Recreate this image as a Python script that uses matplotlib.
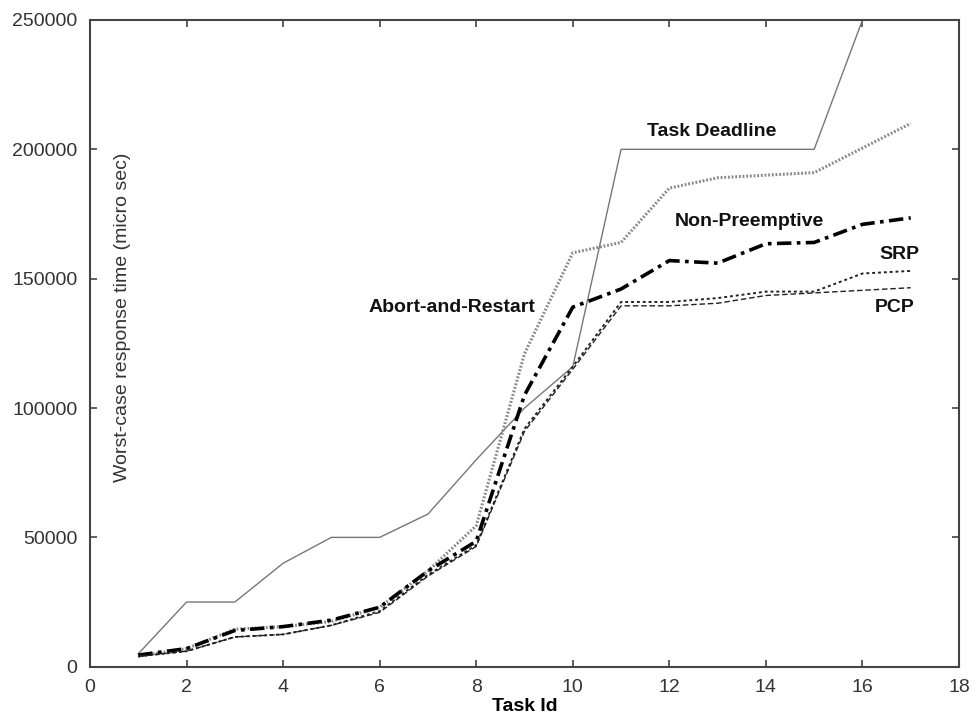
import matplotlib
matplotlib.use("Agg")
import matplotlib.pyplot as plt

plt.rcParams['font.family'] = ['Liberation Sans', 'DejaVu Sans']

task_id = list(range(1, 18))

deadline = [5000, 25000, 25000, 40000, 50000, 50000, 59000, 80000, 100000,
            116000, 200000, 200000, 200000, 200000, 200000, 250000, 280000]
abort_restart = [4000, 7000, 14500, 15500, 17500, 23000, 37000, 54500, 121000,
                 160000, 164000, 185000, 189000, 190000, 191000, 200500, 210000]
non_preemptive = [4500, 7000, 14000, 15500, 18000, 23000, 37000, 48500, 105000,
                  139000, 146000, 157000, 156000, 163500, 164000, 171000, 173500]
srp = [4000, 6000, 11500, 12500, 16000, 21500, 35500, 47000, 92000,
       116000, 141000, 141000, 142500, 145000, 145000, 152000, 153000]
pcp = [4000, 6000, 11500, 12500, 16000, 21000, 35000, 46500, 91000,
       115000, 139500, 139500, 140500, 143500, 144500, 145500, 146500]

fig = plt.figure(figsize=(9.76, 7.13), dpi=100)
ax = fig.add_axes([0.0922, 0.0649, 0.8904, 0.9071])

ax.plot(task_id, deadline, color='#777777', lw=1.0)
ax.plot(task_id, abort_restart, color='#888888', lw=2.2, linestyle=(0, (0.6, 0.6)))
ax.plot(task_id, non_preemptive, color='black', lw=2.6, linestyle=(0, (4, 1.5, 1, 1.5)))
ax.plot(task_id, srp, color='#222222', lw=1.4, linestyle=(0, (1.5, 1.5)))
ax.plot(task_id, pcp, color='#222222', lw=1.0, linestyle=(0, (4, 2)))

# curve labels instead of a legend
lbl = dict(fontsize=14, fontweight='bold', ha='center', va='center', color='#111111')
ax.text(12.88, 207000, 'Task Deadline', **lbl)
ax.text(13.66, 172000, 'Non-Preemptive', **lbl)
ax.text(16.77, 159500, 'SRP', **lbl)
ax.text(16.67, 139000, 'PCP', **lbl)
ax.text(7.49, 139000, 'Abort-and-Restart', **lbl)

ax.set_xlim(0, 18)
ax.set_ylim(0, 250000)
ax.set_xticks(range(0, 19, 2))
ax.set_yticks(range(0, 250001, 50000))
ax.tick_params(direction='in', length=5, width=1.2, top=True, right=True,
               labelsize=14, color='#444444', labelcolor='#333333', pad=9)
for s in ax.spines.values():
    s.set_color('#444444')
    s.set_linewidth(1.5)

ax.set_xlabel('Task Id', fontsize=14, fontweight='bold', labelpad=1)
ax.text(0.68, 135000, 'Worst-case response time (micro sec)', rotation=90,
        ha='center', va='center', fontsize=14, color='#333333')

fig.savefig('out.png', dpi=100)
